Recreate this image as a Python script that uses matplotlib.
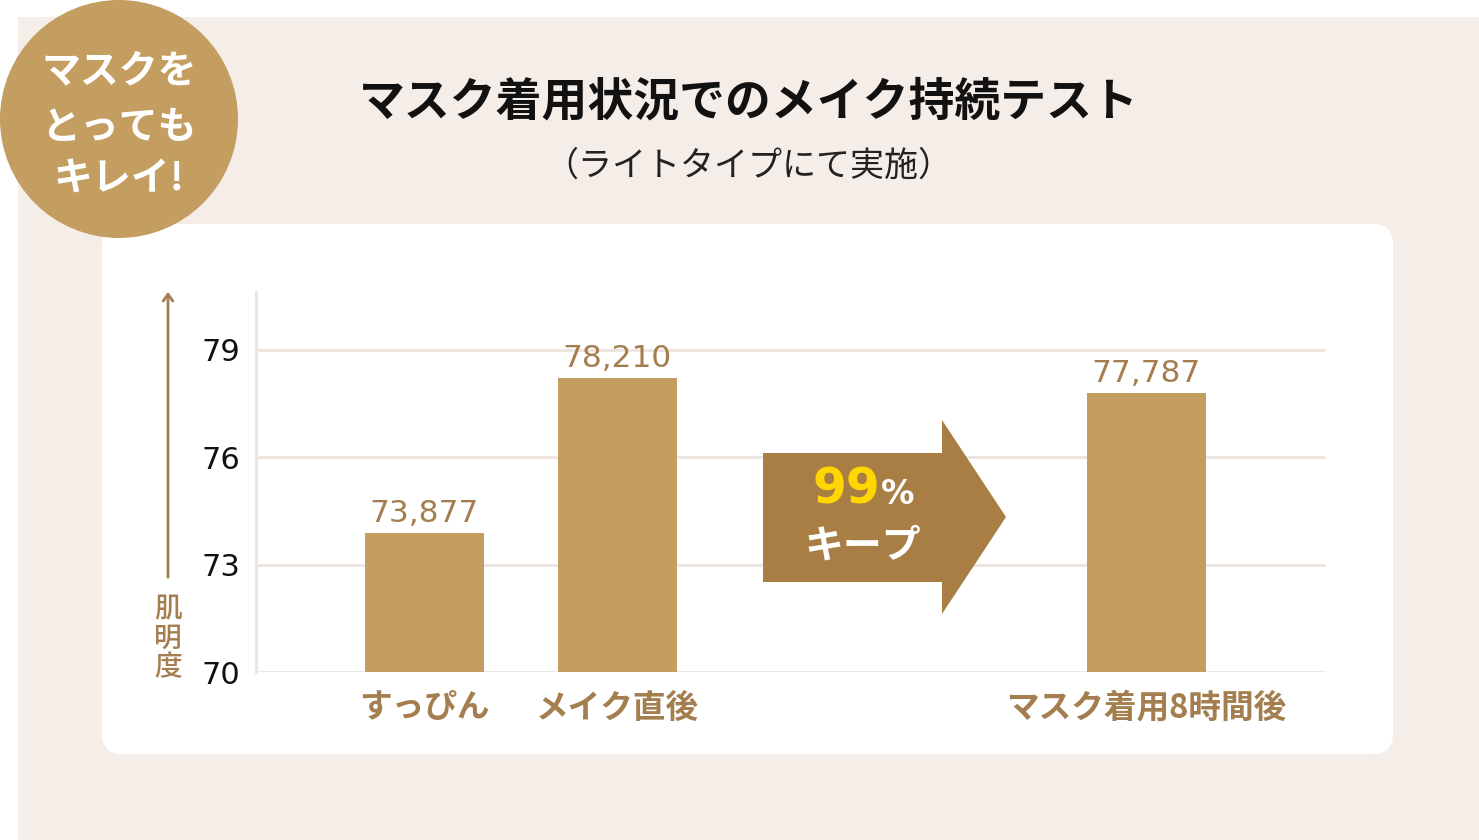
import matplotlib
matplotlib.use("Agg")
import matplotlib.pyplot as plt
from matplotlib.patches import Rectangle, FancyBboxPatch, Circle, Polygon

# ---- data ----
categories = ["すっぴん", "メイク直後", "マスク着用8時間後"]
values = [73.877, 78.210, 77.787]
yticks = [70, 73, 76, 79]
title = "マスク着用状況でのメイク持続テスト"
subtitle = "（ライトタイプにて実施）"
badge_lines = ["マスクを", "とっても", "キレイ!"]
keep_pct = "99"
keep_label = "キープ"
ylabel = "肌明度"

# ---- layout / style ----
xpos = [0, 1, 3.74]
W, H = 1479, 840
BEIGE = "#F5EDE8"
BAR = "#C49D60"
ARROW = "#A97E45"
BROWN = "#A47E4E"
GRID = "#ECE4DE"
JP = ["Noto Sans CJK JP", "DejaVu Sans"]
NUM = ["DejaVu Sans"]

fig = plt.figure(figsize=(W / 100, H / 100), dpi=100)
fig.patch.set_facecolor("white")

# background layer in pixel coords
bg = fig.add_axes([0, 0, 1, 1], zorder=0)
bg.set_xlim(0, W)
bg.set_ylim(H, 0)
bg.axis("off")
bg.add_patch(Rectangle((18, 17), W - 18, H - 17, facecolor=BEIGE, edgecolor="none"))
bg.add_patch(FancyBboxPatch((102 + 20, 224 + 20), 1291 - 40, 530 - 40,
                            boxstyle="round,pad=20", facecolor="white", edgecolor="none"))

# chart axes
ax = fig.add_axes([256 / W, 1 - 672 / H, (1326 - 256) / W, (672 - 292) / H], zorder=1)
ax.patch.set_alpha(0)
ax.set_xlim(-0.873, 4.671)
ax.set_ylim(70, 80.62)
ax.bar(xpos, [v - 70 for v in values], bottom=70, width=0.617, color=BAR, zorder=3)
for x, v in zip(xpos, values):
    ax.annotate(f"{v:.3f}".replace(".", ","), (x, v), xytext=(0, 8), textcoords="offset points",
                ha="center", va="baseline", fontsize=22.5, color=BROWN, family=NUM)
ax.set_yticks(yticks)
ax.set_yticklabels([str(t) for t in yticks], fontsize=22, family=NUM, color="#111111")
ax.set_xticks(xpos)
ax.set_xticklabels(categories, fontsize=23.5, family=JP, fontweight="bold", color=BROWN)
ax.tick_params(axis="both", length=0)
ax.tick_params(axis="y", pad=11)
ax.tick_params(axis="x", pad=14)
ax.grid(axis="y", color=GRID, linewidth=2, zorder=0)
for s in ["top", "right", "bottom"]:
    ax.spines[s].set_visible(False)
ax.spines["left"].set_color(GRID)
ax.spines["left"].set_linewidth(2)

# overlay in pixel coords
ov = fig.add_axes([0, 0, 1, 1], zorder=2)
ov.set_xlim(0, W)
ov.set_ylim(H, 0)
ov.axis("off")
ov.patch.set_alpha(0)

# badge
ov.add_patch(Circle((119, 119), 119, facecolor=BAR, edgecolor="none"))
for yy, line in zip([72, 127, 179], badge_lines):
    ov.text(119, yy, line, ha="center", va="center", fontsize=28, fontweight="bold",
            color="white", family=JP)

# titles
ov.text(749, 102, title, ha="center", va="center", fontsize=33, fontweight="bold",
        color="#111111", family=JP)
ov.text(748, 166, subtitle, ha="center", va="center", fontsize=24.5, color="#222222", family=JP)

# y label with arrow
ov.annotate("", xy=(168, 289), xytext=(168, 580),
            arrowprops=dict(arrowstyle="->,head_length=0.5,head_width=0.35", color=BROWN, lw=2))
ov.text(168, 638, "\n".join(ylabel), ha="center", va="center", fontsize=20, color=BROWN,
        family=JP, fontweight="medium", linespacing=1.0)

# big arrow
ov.add_patch(Polygon([(763, 453), (942, 453), (942, 420), (1006, 517), (942, 614),
                      (942, 582), (763, 582)], closed=True, facecolor=ARROW, edgecolor="none"))
ov.text(880, 504, keep_pct, ha="right", va="baseline", fontsize=35, fontweight="bold",
        color="#FFD600", family=NUM)
ov.text(881, 504, "%", ha="left", va="baseline", fontsize=24, fontweight="bold",
        color="white", family=NUM)
ov.text(863, 546, keep_label, ha="center", va="center", fontsize=28, fontweight="bold",
        color="white", family=JP)

fig.savefig("out.png", dpi=100, facecolor=fig.get_facecolor())
